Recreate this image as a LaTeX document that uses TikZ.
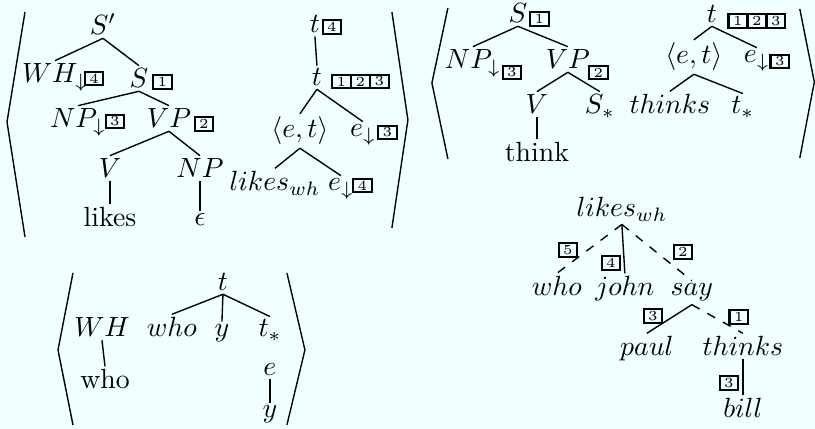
\documentclass[tikz,border=0pt]{standalone}
\usepackage{amsmath,amssymb}
\usetikzlibrary{positioning}
\definecolor{bgcol}{RGB}{240,255,255}

\begin{document}
\begin{tikzpicture}[x=0.36pt,y=-0.36pt,
    lbl/.style={inner sep=1pt,anchor=base},
    idx/.style={draw,line width=0.75pt,inner sep=0pt,minimum width=6.7pt,
                minimum height=4.8pt,font=\tiny},
    adj/.style={dash pattern=on 3.2pt off 3.2pt}]
\fill[bgcol] (0,0) rectangle (815,429);

% brackets
\draw[line width=0.5pt] (25,12) -- (7,122) -- (25,237);
\draw[line width=0.5pt] (392,12) -- (408,120) -- (392,228);
\draw[line width=0.5pt] (448,8) -- (432,83) -- (448,159);
\draw[line width=0.5pt] (800,9) -- (814.5,82) -- (800,158);
\draw[line width=0.5pt] (73,273) -- (58,350) -- (73,425);
\draw[line width=0.5pt] (287,273) -- (305,350) -- (287,425);

% first pair
\node[lbl] (sp) at (103,35) {$S'$};
\node[lbl] (wh) at (55,83) {$WH_{\downarrow}$};
\node[lbl] (s) at (139,88) {$S$};
\node[lbl] (np) at (78,128) {$NP_{\downarrow}$};
\node[lbl] (vp) at (169,128) {$VP$};
\node[lbl] (v) at (110,178) {$V$};
\node[lbl] (obj) at (200,178) {$NP$};
\node[lbl] (likes) at (110,227) {likes};
\node[lbl] (eps) at (200,226) {$\epsilon$};
\node[idx] (wh4) at (94,78.5) {4};
\node[idx] (s1) at (162.5,82) {1};
\node[idx] (np3) at (115,121.5) {3};
\node[idx] (vp2) at (204,124) {2};

\node[lbl] (ta) at (315,33) {$t$};
\node[lbl] (tb) at (317,86) {$t$};
\node[lbl] (et) at (300,138) {$\langle e,t\rangle$};
\node[lbl] (ea) at (363,137) {$e_{\downarrow}$};
\node[lbl] (lw) at (275,191) {$likes_{wh}$};
\node[lbl] (eb) at (341,191) {$e_{\downarrow}$};
\node[idx] (ta4) at (332,27) {4};
\node[idx] (tb1) at (341.5,81.5) {1};
\node[idx,right=-0.6pt of tb1] (tb2) {2};
\node[idx,right=-0.6pt of tb2] (tb3) {3};
\node[idx] (ea3) at (387.5,132.5) {3};
\node[idx] (eb4) at (362.5,185.5) {4};

% second pair
\node[lbl] (s2) at (518,23) {$S$};
\node[lbl] (np2) at (473,69) {$NP_{\downarrow}$};
\node[lbl] (vp2a) at (568,69) {$VP$};
\node[lbl] (v2) at (537,114) {$V$};
\node[lbl] (sf) at (600,114) {$S_*$};
\node[lbl] (think) at (537,162) {think};
\node[idx] (s21) at (539.5,19) {1};
\node[idx] (np23) at (512,72.5) {3};
\node[idx] (vp22) at (598.5,72.5) {2};

\node[lbl] (tc) at (712,23) {$t$};
\node[lbl] (et2) at (694,64) {$\langle e,t\rangle$};
\node[lbl] (ec) at (757,63) {$e_{\downarrow}$};
\node[lbl] (thinks) at (670,114) {$thinks$};
\node[lbl] (tf) at (743,114) {$t_*$};
\node[idx] (tc1) at (738,21) {1};
\node[idx,right=-0.6pt of tc1] (tc2) {2};
\node[idx,right=-0.6pt of tc2] (tc3) {3};
\node[idx] (ec3) at (780,61.5) {3};

% third pair
\node[lbl] (wh3) at (102,337) {$WH$};
\node[lbl] (who) at (105,389) {who};
\node[lbl] (td) at (223,291) {$t$};
\node[lbl] (whoi) at (172,337) {$who$};
\node[lbl] (ya) at (222,337) {$y$};
\node[lbl] (tg) at (270,337) {$t_*$};
\node[lbl] (ed) at (270,376) {$e$};
\node[lbl] (yb) at (270,418) {$y$};

% derivation tree
\node[lbl] (lk) at (622,217) {$likes_{wh}$};
\node[lbl] (whod) at (557,296) {$who$};
\node[lbl] (john) at (625,296) {$john$};
\node[lbl] (say) at (692,296) {$say$};
\node[lbl] (paul) at (647,356) {$paul$};
\node[lbl] (thk) at (743,356) {$thinks$};
\node[lbl] (bill) at (743,418) {$bill$};
\node[idx] (d5) at (568,250) {5};
\node[idx] (d4) at (611,263) {4};
\node[idx] (d2) at (683,252) {2};
\node[idx] (d3) at (653,316) {3};
\node[idx] (d1) at (739,317) {1};
\node[idx] (d3b) at (729,383) {3};

\begin{scope}[every edge/.style={draw=black,line width=0.5pt}]
    \path (sp.south) edge (wh.north);
    \path (sp.south) edge (s.north);
    \path (s.south) edge (np.north);
    \path (s.south) edge (vp.north);
    \path (vp.south) edge (v.north);
    \path (vp.south) edge (obj.north);
    \path (v.south) edge (likes.north);
    \path (obj.south) edge (eps.north);
    \path (ta.south) edge (tb.north);
    \path (tb.south) edge (et.north);
    \path (tb.south) edge (ea.north);
    \path (et.south) edge (lw.north);
    \path (et.south) edge (eb.north);
    \path (s2.south) edge (np2.north);
    \path (s2.south) edge (vp2a.north);
    \path (vp2a.south) edge (v2.north);
    \path (vp2a.south) edge (sf.north);
    \path (v2.south) edge (think.north);
    \path (tc.south) edge (et2.north);
    \path (tc.south) edge (ec.north);
    \path (et2.south) edge (thinks.north);
    \path (et2.south) edge (tf.north);
    \path (wh3.south) edge (who.north);
    \path (td.south) edge (whoi.north);
    \path (td.south) edge (ya.north);
    \path (td.south) edge (tg.north);
    \path (ed.south) edge (yb.north);
    \path (lk.south) edge[adj] (whod.north);
    \path (lk.south) edge (john.north);
    \path (lk.south) edge[adj] (say.north);
    \path (say.south) edge (paul.north);
    \path (say.south) edge[adj] (thk.north);
    \path (thk.south) edge (bill.north);
\end{scope}
\end{tikzpicture}
\end{document}
